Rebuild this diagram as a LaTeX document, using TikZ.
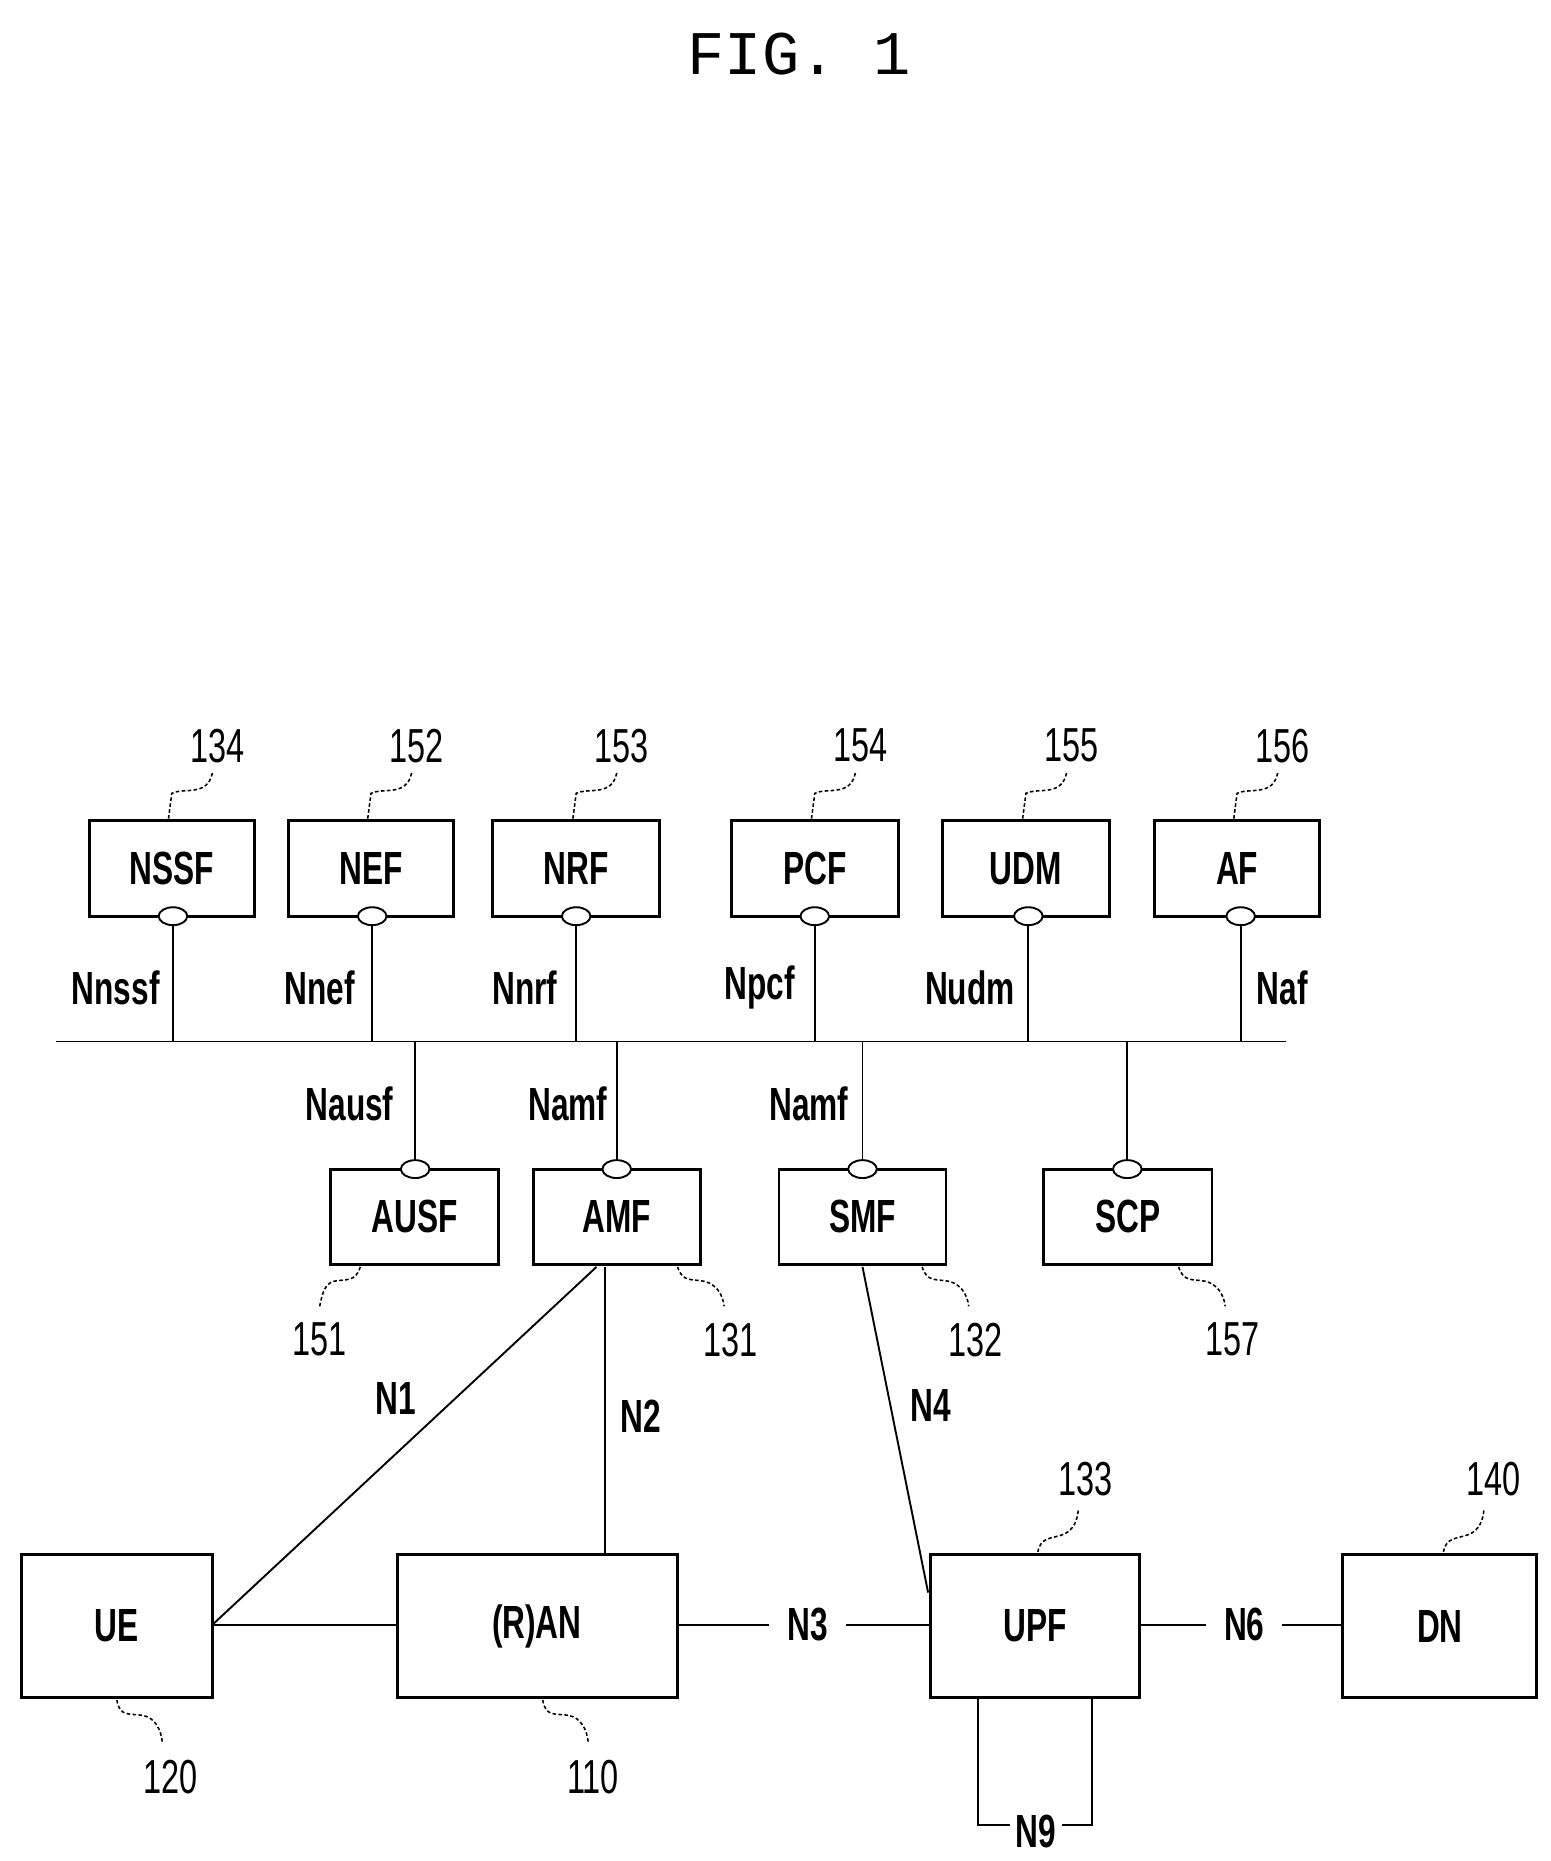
\documentclass[tikz,border=0pt]{standalone}
\usepackage{fontspec}
\usetikzlibrary{shapes.geometric}
\setmainfont{Liberation Sans}
\setmonofont{Liberation Mono}
\newcommand{\lbl}[1]{\scalebox{0.68}[1]{#1}}
\begin{document}
\begin{tikzpicture}[x=1pt,y=-1pt,
  box/.style={draw,line width=2.4pt,inner sep=0pt},
  txt/.style={font=\fontsize{39}{41}\selectfont\bfseries},
  num/.style={font=\fontsize{40}{42}\selectfont},
  ln/.style={line width=1.6pt},
  port/.style={draw,line width=1.6pt,fill=white,ellipse,minimum width=24pt,minimum height=15pt,inner sep=0pt},
  lead/.style={line width=1.3pt,dashed,dash pattern=on 3pt off 2pt}]
\useasboundingbox (0,0) rectangle (1300,1560);
\node[font=\fontsize{52}{54}\selectfont\ttfamily] (title) at (670,45) {FIG. 1};
% top boxes
\foreach \n/\t/\xa/\xb/\num in {nssf/NSSF/75/213/134,nef/NEF/242/380/152,nrf/NRF/413/553/153,pcf/PCF/613/753/154,udm/UDM/790/930/155,af/AF/968/1106/156}{
  \draw[box] (\xa,688) rectangle (\xb,768);
  \node[txt] (\n) at ({(\xa+\xb)/2},728) {\lbl{\t}};
  \node[num] (r\n) at ({(\xa+\xb)/2+38},625) {\lbl{\num}};
  \draw[lead] ({(\xa+\xb)/2+34},648) .. controls ({(\xa+\xb)/2+30},668) and ({(\xa+\xb)/2+10},660) .. ({(\xa+\xb)/2},665) -- ({(\xa+\xb)/2-3},688);
}
\draw[ln] (47,873) -- (1078,873);
\foreach \x/\l/\lx in {145/Nnssf/97,312/Nnef/268,483/Nnrf/440,683/Npcf/637,862/Nudm/813,1040/Naf/1075}{
  \draw[ln] (\x,768) -- (\x,873);
  \node[port] at (\x,768) {};
  \node[txt] at (\lx,828) {\lbl{\l}};
}
% lower boxes
\foreach \n/\t/\xa/\xb/\px/\num/\nx in {ausf/AUSF/277/418/348/151/268,amf/AMF/447/587/517/131/612,smf/SMF/653/793/723/132/818,scp/SCP/875/1016/945/157/1033}{
  \draw[box] (\xa,980) rectangle (\xb,1060);
  \node[txt] (\n) at ({(\xa+\xb)/2},1020) {\lbl{\t}};
  \draw[ln] (\px,873) -- (\px,980);
  \node[port] at (\px,980) {};
  \node[num] (r\n) at (\nx,1123) {\lbl{\num}};
}
\draw[lead] (302,1062) .. controls (298,1075) and (290,1072) .. (280,1074) .. controls (272,1076) and (270,1085) .. (268,1095);
\draw[lead] (568,1062) .. controls (572,1075) and (580,1072) .. (590,1074) .. controls (600,1076) and (606,1085) .. (607,1095);
\draw[lead] (773,1062) .. controls (777,1075) and (785,1072) .. (795,1074) .. controls (805,1076) and (811,1085) .. (812,1095);
\draw[lead] (988,1062) .. controls (992,1075) and (1000,1072) .. (1010,1074) .. controls (1020,1076) and (1026,1085) .. (1027,1095);
\node[txt] at (293,925) {\lbl{Nausf}};
\node[txt] at (476,925) {\lbl{Namf}};
\node[txt] at (678,925) {\lbl{Namf}};
% bottom boxes
\draw[box] (18,1303) rectangle (178,1423); \node[txt] (ue) at (98,1363) {\lbl{UE}};
\draw[box] (333,1303) rectangle (568,1423); \node[txt] (ran) at (450,1363) {\lbl{(R)AN}};
\draw[box] (780,1303) rectangle (955,1423); \node[txt] (upf) at (868,1363) {\lbl{UPF}};
\draw[box] (1125,1303) rectangle (1288,1423); \node[txt] (dn) at (1207,1363) {\lbl{DN}};
\node[num] at (143,1490) {\lbl{120}};
\node[num] at (497,1490) {\lbl{110}};
\node[num] at (910,1240) {\lbl{133}};
\node[num] at (1252,1240) {\lbl{140}};
\draw[lead] (98,1425) .. controls (100,1440) and (110,1436) .. (120,1438) .. controls (130,1440) and (135,1450) .. (136,1460);
\draw[lead] (455,1425) .. controls (457,1440) and (467,1436) .. (477,1438) .. controls (487,1440) and (492,1450) .. (493,1460);
\draw[lead] (870,1301) .. controls (872,1288) and (882,1290) .. (892,1286) .. controls (900,1282) and (903,1275) .. (904,1265);
\draw[lead] (1210,1301) .. controls (1212,1288) and (1222,1290) .. (1232,1286) .. controls (1240,1282) and (1243,1275) .. (1244,1265);
% connectors
\draw[ln] (178,1362) -- (333,1362);
\draw[ln] (568,1362) -- (645,1362); \node[txt] at (677,1362) {\lbl{N3}}; \draw[ln] (709,1362) -- (780,1362);
\draw[ln] (955,1362) -- (1011,1362); \node[txt] at (1043,1362) {\lbl{N6}}; \draw[ln] (1075,1362) -- (1125,1362);
\draw[ln] (500,1062) -- (178,1362);
\node[txt] at (332,1172) {\lbl{N1}};
\draw[ln] (507,1062) -- (507,1303);
\node[txt] at (537,1187) {\lbl{N2}};
\draw[ln] (723,1062) -- (778,1335);
\node[txt] at (780,1178) {\lbl{N4}};
\draw[ln] (820,1423) -- (820,1530) -- (847,1530);
\draw[ln] (890,1530) -- (915,1530) -- (915,1423);
\node[txt] at (868,1535) {\lbl{N9}};
\end{tikzpicture}
\end{document}
